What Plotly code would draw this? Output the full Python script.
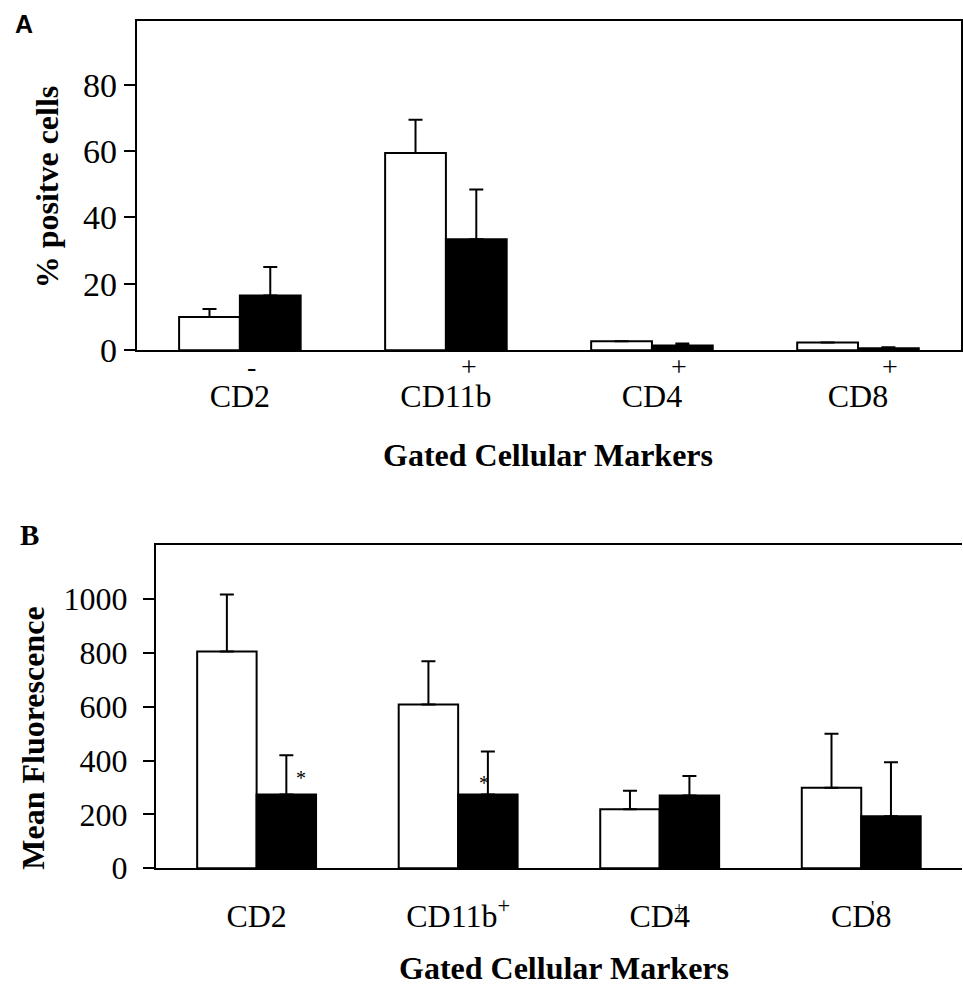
import plotly.graph_objects as go
from plotly.subplots import make_subplots

# Panel A: percentage of positive cells per gated marker
markers = ["CD2", "CD11b", "CD4", "CD8"]
marker_signs = ["-", "+", "+", "+"]
pct_open = [10.0, 59.4, 2.7, 2.3]
pct_open_err = [2.4, 10.0, 0.0, 0.0]
pct_filled = [16.5, 33.4, 1.4, 0.6]
pct_filled_err = [8.6, 15.0, 0.6, 0.3]

# Panel B: mean fluorescence per gated marker
markers_b = ["CD2", "CD11b<sup>+</sup>", "CD4", "CD8"]
mfi_open = [806, 609, 219, 299]
mfi_open_err = [212, 161, 69, 201]
mfi_filled = [274, 274, 270, 193]
mfi_filled_err = [146, 160, 73, 201]
significant = ["*", "*", "", ""]

ticks_a = [0, 20, 40, 60, 80]
ticks_b = [0, 200, 400, 600, 800, 1000]

SERIF = "Liberation Serif, Times New Roman, serif"
W, H = 963, 1003

fig = make_subplots(rows=2, cols=1)
xs = list(range(len(markers)))


def add_pair(row, y_open, e_open, y_filled, e_filled):
    err_style = dict(type="data", symmetric=False, color="black",
                     thickness=2, width=7)
    fig.add_trace(go.Bar(
        x=xs, y=y_open, marker=dict(color="white", line=dict(color="black", width=2)),
        error_y=dict(array=e_open, arrayminus=[0] * len(xs), **err_style),
        showlegend=False), row=row, col=1)
    fig.add_trace(go.Bar(
        x=xs, y=y_filled, marker=dict(color="black", line=dict(color="black", width=2)),
        error_y=dict(array=e_filled, arrayminus=[0] * len(xs), **err_style),
        showlegend=False), row=row, col=1)


add_pair(1, pct_open, pct_open_err, pct_filled, pct_filled_err)
add_pair(2, mfi_open, mfi_open_err, mfi_filled, mfi_filled_err)

axis_common = dict(showline=True, linecolor="black", linewidth=2,
                   showgrid=False, zeroline=False)
tick_font = dict(family=SERIF, size=32, color="black")

fig.update_xaxes(domain=[137 / W, 962 / W], range=[-0.5, 3.5], mirror=True,
                 tickvals=xs, ticktext=markers, ticks="", ticklabelstandoff=16,
                 tickfont=tick_font, **axis_common, row=1, col=1)
fig.update_yaxes(domain=[(H - 357) / H, (H - 21) / H], range=[0, 99.3], mirror=True,
                 tickvals=ticks_a, ticks="outside", ticklen=11, tickwidth=2,
                 tickcolor="black", ticklabelstandoff=0,
                 tickfont=dict(family=SERIF, size=34, color="black"),
                 **axis_common, row=1, col=1)

fig.update_xaxes(domain=[156 / W, 1.0], range=[-0.5, 3.5], mirror=True,
                 tickvals=xs, ticktext=markers_b, ticks="", ticklabelstandoff=18,
                 tickfont=tick_font, **axis_common, row=2, col=1)
fig.update_yaxes(domain=[(H - 885) / H, (H - 556) / H], range=[0, 1200], mirror=False,
                 tickvals=ticks_b, ticks="outside", ticklen=11, tickwidth=2,
                 tickcolor="black", ticklabelstandoff=9,
                 tickfont=tick_font, **axis_common, row=2, col=1)


def label(x, y, text, font, xref="paper", yref="paper", **kw):
    return dict(x=x, y=y, xref=xref, yref=yref, text=text, showarrow=False,
                xanchor="center", yanchor="middle", font=font, **kw)


ann = []
# marker sign labels above the panel A category names
sign_shift = [12, 23, 27, 32]
sign_font = dict(family=SERIF, size=28, color="black")
for i, s in enumerate(marker_signs):
    ann.append(label(i, (H - 374) / H, s, sign_font, xref="x", xshift=sign_shift[i]))

# superscript marks on panel B category names
sup_font = dict(family=SERIF, size=18, color="black")
ann.append(label(2, (H - 927) / H, "+", sup_font, xref="x2", xshift=19))
ann.append(label(3, (H - 926) / H, "'", sup_font, xref="x2", xshift=11))

# significance markers
star_font = dict(family=SERIF, size=20, color="black")
star_pos = [(0.218, 336), (1.129, 318)]
for (sx, sy), s in zip(star_pos, [m for m in significant if m]):
    ann.append(label(sx, sy, s, star_font, xref="x2", yref="y2"))

# axis titles
title_font = dict(family=SERIF, size=32, color="black")
ann += [
    label(549 / W, (H - 464) / H, "<b>Gated Cellular Markers</b>", title_font),
    label(565 / W, (H - 987) / H, "<b>Gated Cellular Markers</b>", title_font),
    label(47 / W, (H - 190) / H, "<b>% positve cells</b>", title_font, textangle=-90),
    label(33 / W, (H - 752) / H, "<b>Mean Fluorescence</b>", title_font, textangle=-90),
    # panel letters
    label(24 / W, (H - 24) / H, "<b>A</b>",
          dict(family="Liberation Sans, Arial, sans-serif", size=25, color="black")),
    label(30 / W, (H - 545) / H, "<b>B</b>",
          dict(family=SERIF, size=29, color="black")),
]

fig.update_layout(width=W, height=H, margin=dict(l=0, r=0, t=0, b=0),
                  paper_bgcolor="white", plot_bgcolor="white",
                  barmode="group", bargap=0.41, bargroupgap=0,
                  annotations=ann, showlegend=False)

fig.write_html("out.html")
